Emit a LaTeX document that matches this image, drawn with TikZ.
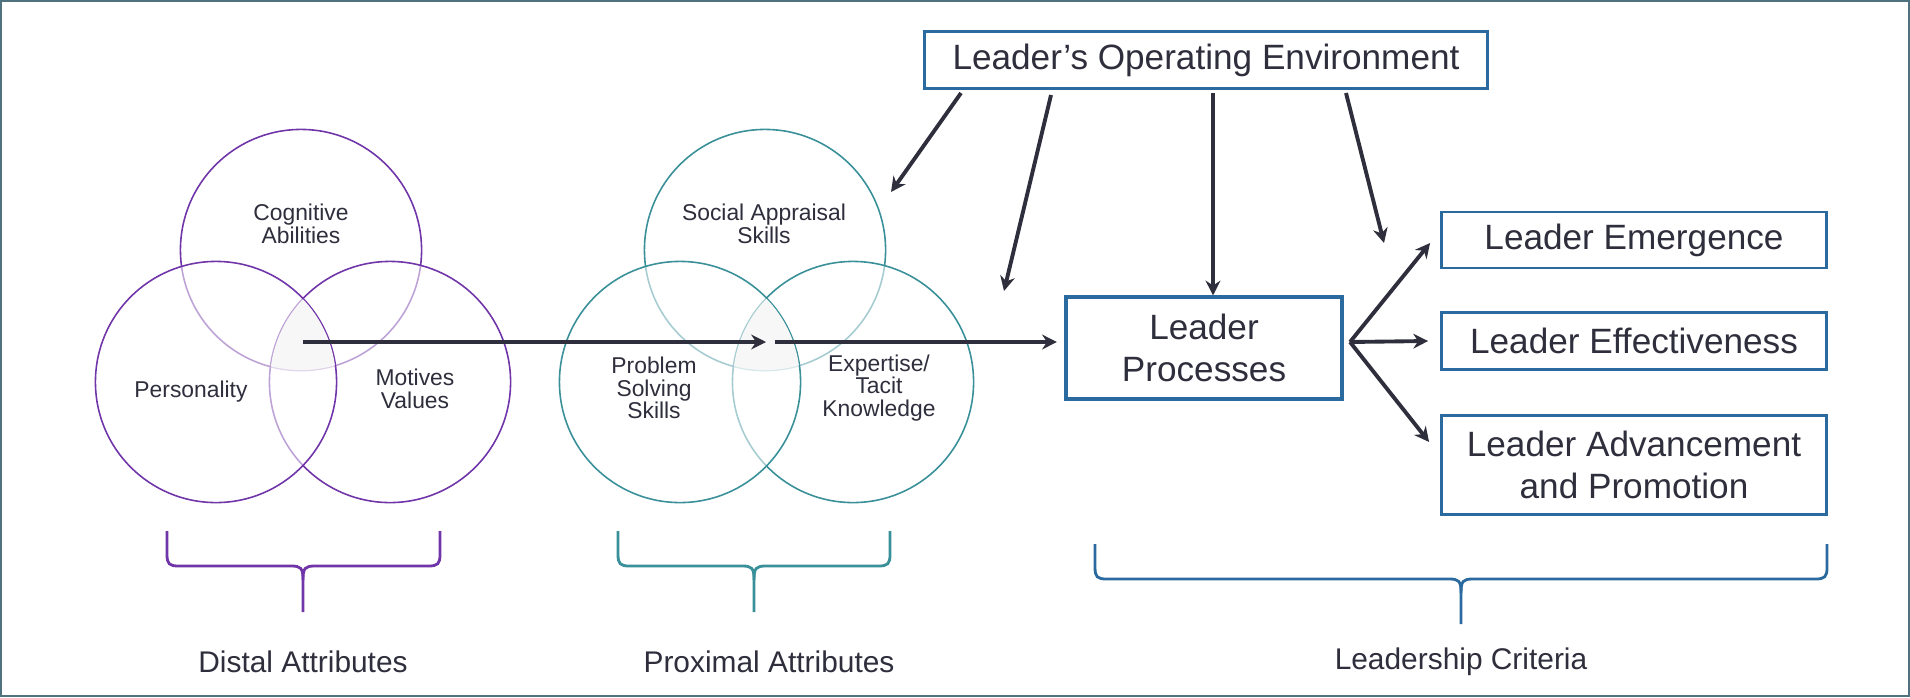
\documentclass[tikz,border=0pt]{standalone}
\usepackage{fontspec}
\setmainfont{Liberation Sans}
\usepackage{tikz}
\usetikzlibrary{positioning,arrows.meta}

\definecolor{ink}{HTML}{2E2E3C}
\definecolor{distal}{HTML}{7035A8}
\definecolor{proximal}{HTML}{3A9099}
\definecolor{boxblue}{HTML}{2B6A9E}
\definecolor{frame}{HTML}{50727F}

% open bracket under each group: colour, left, middle, right, top, bar, tip
\newcommand{\groupbrace}[7]{%
  \draw[#1, line width=0.8pt] (#2,#5) -- (#2,#6-12) .. controls (#2,#6-2) and (#2+2,#6) .. (#2+12,#6)
    -- (#3-12,#6) .. controls (#3-2,#6) and (#3,#6+2) .. (#3,#6+14) -- (#3,#7);
  \draw[#1, line width=0.8pt] (#4,#5) -- (#4,#6-12) .. controls (#4,#6-2) and (#4-2,#6) .. (#4-12,#6)
    -- (#3+12,#6) .. controls (#3+2,#6) and (#3,#6+2) .. (#3,#6+14);
}

\begin{document}
\begin{tikzpicture}[x=0.01cm, y=-0.01cm,
  venn/.style={circle, draw, line width=0.45pt, minimum size=2.41cm, inner sep=0pt, fill=white, fill opacity=0.55},
  vtext/.style={text=ink, align=center, font=\fontsize{6.5}{6.4}\selectfont},
  critbox/.style={draw=boxblue, line width=0.75pt, text=ink, align=center, minimum width=3.85cm, font=\fontsize{10}{11.8}\selectfont},
  grouplabel/.style={text=ink, anchor=base, font=\fontsize{8.5}{10}\selectfont},
  flow/.style={draw=ink, line width=1.1pt, -{Stealth[length=4.2pt,width=4.2pt]}}]

\useasboundingbox (0,0) rectangle (1910,697);
\draw[frame, line width=0.7pt] (1.2,1.2) rectangle (1908.8,695.8);

% distal attributes
\node[venn, draw=distal] (cog) at (301,250) {};
\node[venn, draw=distal] (motv) at (390,382) {};
\node[venn, draw=distal] (pers) at (216,382) {};
\begin{scope}
  \clip (301,250) circle[radius=1.2cm];
  \clip (390,382) circle[radius=1.2cm];
  \fill[black!3] (216,382) circle[radius=1.2cm];
\end{scope}
\node[vtext] (cogtext) at (301,224) {Cognitive\\Abilities};
\node[vtext] (perstext) at (191,392) {Personality};
\node[vtext] (motvtext) at (415,389) {Motives\\Values};

% proximal attributes
\node[venn, draw=proximal] (soc) at (765,250) {};
\node[venn, draw=proximal] (expt) at (853,382) {};
\node[venn, draw=proximal] (prob) at (680,382) {};
\begin{scope}
  \clip (765,250) circle[radius=1.2cm];
  \clip (853,382) circle[radius=1.2cm];
  \fill[black!3] (680,382) circle[radius=1.2cm];
\end{scope}
\node[vtext] (soctext) at (764,224) {Social Appraisal\\Skills};
\node[vtext] (probtext) at (654,388) {Problem\\Solving\\Skills};
\node[vtext] (expttext) at (879,388) {Expertise/\\Tacit\\Knowledge};

% boxes
\node[critbox, minimum width=5.63cm, minimum height=0.57cm] (loe) at (1206,60) {Leader’s Operating Environment};
\node[critbox, line width=1.15pt, minimum width=2.76cm, minimum height=1.01cm] (lp) at (1204,348) {Leader\\Processes};
\node[critbox, minimum height=0.56cm] (emg) at (1634,240) {Leader Emergence};
\node[critbox, minimum height=0.57cm] (eff) at (1634,341) {Leader Effectiveness};
\node[critbox, minimum height=0.99cm] (adv) at (1634,465) {Leader Advancement\\and Promotion};

% main flow
\coordinate (distalc) at (303,342);
\coordinate (proxin) at (766,342);
\coordinate (proxout) at (775,342);
\draw[flow] (distalc) -- (proxin);
\draw[flow, shorten >=0.07cm] (proxout) -- (proxout -| lp.west);

% environment influences
\coordinate (env1) at (961,93);
\coordinate (env2) at (1051,95);
\coordinate (env3) at (1213,93);
\coordinate (env4) at (1346,93);
\coordinate (envend1) at (891,192);
\coordinate (envend2) at (1004,291);
\coordinate (envend4) at (1384,243);
\draw[flow] (env1) -- (envend1);
\draw[flow] (env2) -- (envend2);
\draw[flow] (env3) -- (env3 |- lp.north);
\draw[flow] (env4) -- (envend4);

% criteria
\coordinate (fork) at (1350,342);
\draw[flow] (fork) -- ([xshift=-0.1cm,yshift=-0.03cm]emg.west);
\draw[flow] (fork) -- ([xshift=-0.12cm]eff.west);
\draw[flow] (fork) -- ([xshift=-0.11cm,yshift=0.23cm]adv.west);

% group brackets
\groupbrace{distal}{167}{303}{440}{531}{566}{612}
\groupbrace{proximal}{618}{754}{890}{531}{566}{612}
\groupbrace{boxblue}{1095}{1461}{1827}{544}{579}{624}

\node[grouplabel] (distlabel) at (303,672) {Distal Attributes};
\node[grouplabel] (proxlabel) at (769,672) {Proximal Attributes};
\node[grouplabel] (critlabel) at (1461,669) {Leadership Criteria};
\end{tikzpicture}
\end{document}
